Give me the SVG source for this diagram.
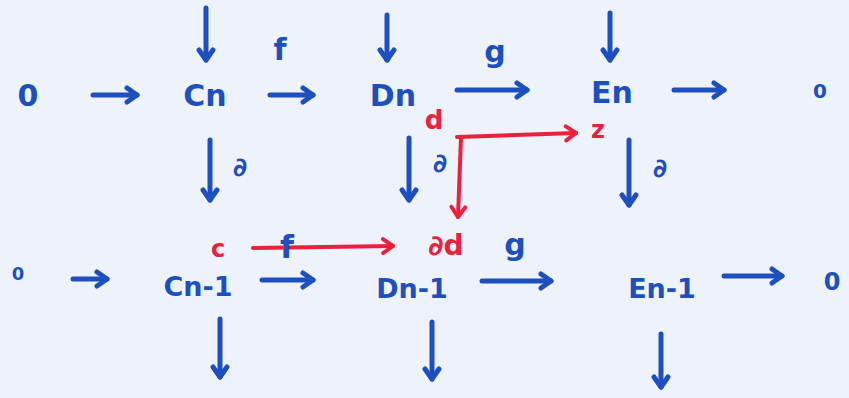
<svg xmlns="http://www.w3.org/2000/svg" width="849" height="398" viewBox="0 0 849 398">
<style>
.b{fill:#1d4fbf;font-family:"DejaVu Sans",sans-serif;text-anchor:middle;font-weight:bold}
.r{fill:#ec1f3d;font-family:"DejaVu Sans",sans-serif;text-anchor:middle;font-weight:bold}
.cb{fill:none;stroke:#1d4fbf;stroke-width:5;stroke-linecap:round;stroke-linejoin:round}
.cr{fill:none;stroke:#ec1f3d;stroke-width:4;stroke-linecap:round;stroke-linejoin:round}
</style>
<defs>
<marker id="hb" markerUnits="userSpaceOnUse" markerWidth="20" markerHeight="20" refX="14" refY="10" orient="auto">
<path d="M4,3 L14,10 L4,17" fill="none" stroke="#1d4fbf" stroke-width="5" stroke-linecap="round" stroke-linejoin="round"/>
</marker>
<marker id="hr" markerUnits="userSpaceOnUse" markerWidth="20" markerHeight="20" refX="14" refY="10" orient="auto">
<path d="M4,3 L14,10 L4,17" fill="none" stroke="#ec1f3d" stroke-width="4" stroke-linecap="round" stroke-linejoin="round"/>
</marker>
</defs>
<rect width="849" height="398" fill="#eef3fb"/>
<g id="connectors">
<path class="cb" marker-end="url(#hb)" d="M93,95 L137,95"/>
<path class="cb" marker-end="url(#hb)" d="M270,95 L313,95"/>
<path class="cb" marker-end="url(#hb)" d="M457,90 L527,90"/>
<path class="cb" marker-end="url(#hb)" d="M674,90 L724,90"/>
<path class="cb" marker-end="url(#hb)" d="M206,8 L206,60"/>
<path class="cb" marker-end="url(#hb)" d="M387,15 L387,60"/>
<path class="cb" marker-end="url(#hb)" d="M610,13 L610,60"/>
<path class="cb" marker-end="url(#hb)" d="M210,140 L210,200"/>
<path class="cb" marker-end="url(#hb)" d="M409,138 L409,200"/>
<path class="cb" marker-end="url(#hb)" d="M629,140 L629,205"/>
<path class="cb" marker-end="url(#hb)" d="M73,279 L107,279"/>
<path class="cb" marker-end="url(#hb)" d="M262,280 L313,280"/>
<path class="cb" marker-end="url(#hb)" d="M482,281 L551,281"/>
<path class="cb" marker-end="url(#hb)" d="M724,276 L782,276"/>
<path class="cb" marker-end="url(#hb)" d="M220,319 L220,377"/>
<path class="cb" marker-end="url(#hb)" d="M432,322 L432,379"/>
<path class="cb" marker-end="url(#hb)" d="M661,334 L661,387"/>
<path class="cr" marker-end="url(#hr)" d="M457,137 L576,133"/>
<path class="cr" marker-end="url(#hr)" d="M461,137 L458,217"/>
<path class="cr" marker-end="url(#hr)" d="M253,248 L393,246"/>
</g>
<g id="n-zero-top-left"><text class="b" x="28" y="106" font-size="30">0</text></g>
<g id="n-Cn"><text class="b" x="205" y="106" font-size="30">Cn</text></g>
<g id="n-Dn"><text class="b" x="393" y="106" font-size="30">Dn</text></g>
<g id="n-En"><text class="b" x="612" y="103" font-size="30">En</text></g>
<g id="n-zero-top-right"><text class="b" x="820" y="98" font-size="20">0</text></g>
<g id="n-zero-bottom-left"><text class="b" x="18" y="280" font-size="18">0</text></g>
<g id="n-Cn-1"><text class="b" x="198" y="296" font-size="27">Cn-1</text></g>
<g id="n-Dn-1"><text class="b" x="412" y="298" font-size="27">Dn-1</text></g>
<g id="n-En-1"><text class="b" x="662" y="298" font-size="27">En-1</text></g>
<g id="n-zero-bottom-right"><text class="b" x="832" y="290" font-size="24">0</text></g>
<g id="labels">
<text class="b" x="280" y="60" font-size="30">f</text>
<text class="b" x="495" y="62" font-size="30">g</text>
<text class="b" x="240" y="176" font-size="26">∂</text>
<text class="b" x="440" y="172" font-size="26">∂</text>
<text class="b" x="660" y="177" font-size="26">∂</text>
<text class="b" x="287" y="258" font-size="32">f</text>
<text class="b" x="515" y="255" font-size="30">g</text>
<text class="r" x="434" y="129" font-size="26">d</text>
<text class="r" x="598" y="138" font-size="24">z</text>
<text class="r" x="218" y="257" font-size="24">c</text>
<text class="r" x="446" y="255" font-size="28">∂d</text>
</g>
</svg>
